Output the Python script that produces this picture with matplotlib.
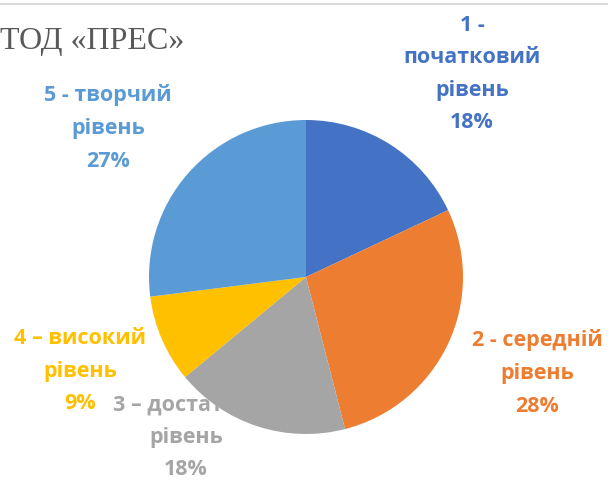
import matplotlib
matplotlib.use("Agg")
import matplotlib.pyplot as plt

categories = ["1 -\nпочатковий\nрівень", "2 - середній\nрівень", "3 – достатній\nрівень",
              "4 – високий\nрівень", "5 - творчий\nрівень"]
values = [18, 28, 18, 9, 27]
colors = ["#4472C4", "#ED7D31", "#A5A5A5", "#FFC000", "#5B9BD5"]
title = "ТОД «ПРЕС»"

W, H = 608, 482
fig = plt.figure(figsize=(W / 100, H / 100), dpi=100)

cx, cy, r = 306, 277, 157
ax = fig.add_axes([(cx - r) / W, (H - cy - r) / H, 2 * r / W, 2 * r / H])
wedges, _ = ax.pie(values, colors=colors, startangle=90, counterclock=False,
                   radius=1, wedgeprops=dict(linewidth=0))
ax.set_xlim(-1, 1)
ax.set_ylim(-1, 1)
ax.set_aspect("equal")
ax.axis("off")

# label centres in pixels
label_pos = [(472, 74), (537, 373), (186, 437), (80, 371), (108, 128)]
for cat, v, col, (px, py) in zip(categories, values, colors, label_pos):
    ax.text(px / W, 1 - py / H, f"{cat}\n{v}%", transform=fig.transFigure,
            ha="center", va="center", color=col, fontsize=15.5, fontweight="bold",
            family="Open Sans", linespacing=1.72, zorder=0.5, clip_on=False)

fig.text(0 / W, 1 - 42 / H, title, ha="left", va="center", fontsize=23,
         family="Liberation Serif", color="#595959")

fig.add_artist(plt.Line2D([0, 1], [1 - 4 / H, 1 - 4 / H], transform=fig.transFigure,
                          color="#D9D9D9", linewidth=1.5))

fig.savefig("out.png", dpi=100)
